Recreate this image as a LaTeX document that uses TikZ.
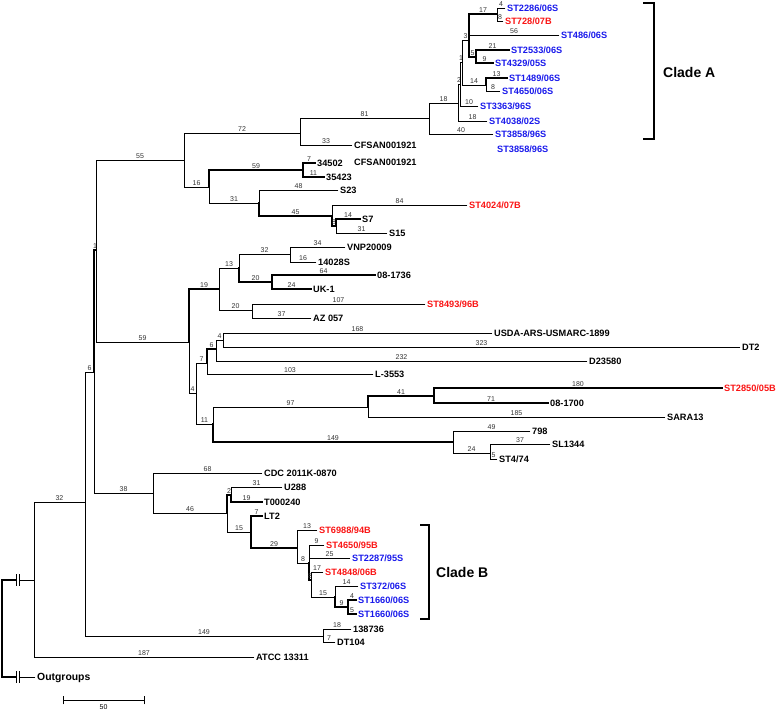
\documentclass[tikz,border=0pt]{standalone}
\usepackage{fontspec}
\setmainfont{Liberation Sans}
\definecolor{tred}{RGB}{250,20,20}
\definecolor{tblue}{RGB}{25,25,235}
\tikzset{
 br/.style={line width=0.9pt, line cap=rect},
 tb/.style={line width=1.8pt, line cap=rect},
 lab/.style={pos=0.75, above, inner sep=0.6pt, font=\fontsize{7}{7}\selectfont, text=black!80},
 leaf/.style={anchor=west, inner sep=0pt, xshift=2pt, font=\bfseries\fontsize{9.2}{10}\selectfont, text height=6.6pt, text depth=0pt},
 rl/.style={leaf, text=tred},
 bl/.style={leaf, text=tblue},
 cladelab/.style={anchor=west, inner sep=0pt, font=\bfseries\fontsize{14}{15}\selectfont},
}
\newcommand\tedge[4][br]{\draw[#1] (#2) |- (#3) node[lab] {#4};}
\newcommand\tleaf[4][leaf]{\coordinate (#2) at (#3); \node[#1] (#2t) at (#2) {#4};}
\begin{document}
\begin{tikzpicture}[x=1pt,y=-1pt]
\useasboundingbox (0,0) rectangle (778,712);
% ---- internal nodes
\coordinate (root) at (2,628);
\coordinate (brkA) at (16,580); \coordinate (brkB) at (19,580);
\coordinate (brkC) at (16,677); \coordinate (brkD) at (19,677);
\coordinate (NR) at (34,580);
\coordinate (N32) at (85,502);
\coordinate (N6) at (94,372);
\coordinate (N1) at (96,250);
\coordinate (N55) at (184,160);
\coordinate (N72) at (300,133);
\coordinate (A) at (429,118);
\coordinate (N18a) at (458,103);
\coordinate (N2a) at (460,84);
\coordinate (N1a) at (462,62);
\coordinate (NB) at (469,40);
\coordinate (N17) at (497,14);
\coordinate (N5a) at (476,57);
\coordinate (N14a) at (486,85);
\coordinate (N16) at (209,187);
\coordinate (N59b) at (303,170);
\coordinate (N31) at (259,203);
\coordinate (N45) at (332,216);
\coordinate (N8) at (336,226);
\coordinate (N59) at (189,342);
\coordinate (N19) at (219,289);
\coordinate (N13) at (239,268);
\coordinate (N32b) at (290,254);
\coordinate (N20) at (272,282);
\coordinate (N20b) at (252,310);
\coordinate (N4) at (196,393);
\coordinate (N7) at (207,363);
\coordinate (N6b) at (216,349);
\coordinate (N4b) at (223,340);
\coordinate (N11) at (213,424);
\coordinate (N97) at (368,407);
\coordinate (N41) at (434,396);
\coordinate (N149) at (453,442);
\coordinate (N24) at (490,453);
\coordinate (N38) at (153,493);
\coordinate (N46) at (227,513);
\coordinate (N2c) at (231,495);
\coordinate (N15) at (251,532);
\coordinate (N29) at (297,548);
\coordinate (N8c) at (309,563);
\coordinate (N8d) at (311,580);
\coordinate (N15b) at (335,597);
\coordinate (N9) at (348,607);
\coordinate (N149b) at (323,636);
% ---- leaves
\tleaf{ATCC}{254,657}{ATCC 13311}
\tleaf[leaf,font=\bfseries\fontsize{10.4}{11}\selectfont,text height=7.5pt]{og}{35,677}{Outgroups}
\tleaf[bl]{t3858}{493,134}{ST3858/96S}
\tleaf{CFa}{352,145}{CFSAN001921}
\tleaf[bl]{t4038}{487,121}{ST4038/02S}
\tleaf[bl]{t3363}{478,106}{ST3363/96S}
\tleaf[bl]{t486}{559,35}{ST486/06S}
\tleaf[bl]{t2286}{505,8}{ST2286/06S}
\tleaf[rl]{t728}{503,21}{ST728/07B}
\tleaf[bl]{t2533}{509,50}{ST2533/06S}
\tleaf[bl]{t4329}{493,63}{ST4329/05S}
\tleaf[bl]{t1489}{507,78}{ST1489/06S}
\tleaf[bl]{t4650s}{500,91}{ST4650/06S}
\tleaf{t34502}{315,163}{34502}
\tleaf{t35423}{324,177}{35423}
\tleaf{tS23}{338,190}{S23}
\tleaf[rl]{t4024}{467,205}{ST4024/07B}
\tleaf{tS7}{360,219}{S7}
\tleaf{tS15}{387,233}{S15}
\tleaf{tVNP}{345,247}{VNP20009}
\tleaf{t14028}{316,262}{14028S}
\tleaf{t081736}{375,275}{08-1736}
\tleaf{tUK}{311,289}{UK-1}
\tleaf[rl]{t8493}{425,304}{ST8493/96B}
\tleaf{tAZ}{311,318}{AZ 057}
\tleaf{tUSDA}{492,333}{USDA-ARS-USMARC-1899}
\tleaf{tDT2}{740,347}{DT2}
\tleaf{tD23580}{587,361}{D23580}
\tleaf{tL3553}{373,374}{L-3553}
\tleaf[rl]{t2850}{722,388}{ST2850/05B}
\tleaf{t081700}{548,403}{08-1700}
\tleaf{tSARA}{665,417}{SARA13}
\tleaf{t798}{530,431}{798}
\tleaf{tSL}{550,444}{SL1344}
\tleaf{tST474}{497,459}{ST4/74}
\tleaf{tCDC}{262,473}{CDC 2011K-0870}
\tleaf{tU288}{282,487}{U288}
\tleaf{tT000}{262,502}{T000240}
\tleaf{tLT2}{262,516}{LT2}
\tleaf[rl]{t6988}{317,530}{ST6988/94B}
\tleaf[rl]{t4650b}{324,545}{ST4650/95B}
\tleaf[bl]{t2287}{350,558}{ST2287/95S}
\tleaf[rl]{t4848}{323,572}{ST4848/06B}
\tleaf[bl]{t372}{358,586}{ST372/06S}
\tleaf[bl]{t1660a}{356,600}{ST1660/06S}
\tleaf[bl]{t1660b}{356,614}{ST1660/06S}
\tleaf{t138}{351,629}{138736}
\tleaf{tDT104}{335,642}{DT104}
% extra floating labels
\node[leaf] (cf2) at (352,162) {CFSAN001921};
\node[bl] (st2) at (495,149) {ST3858/96S};
% ---- root and break marks
\draw[tb] (root) |- (brkA);
\draw[br] (brkB) -- (NR);
\draw[tb] (root) |- (brkC);
\draw[br] (brkD) -- (og);
\foreach \yy in {580,677}{
  \draw[line width=1pt] (16,\yy-6) -- (16,\yy+6);
  \draw[line width=1pt] (19,\yy-6) -- (19,\yy+6);
}
% ---- edges
\tedge{NR}{N32}{32}
\tedge{NR}{ATCC}{187}
\tedge{N32}{N6}{6}
\tedge{N32}{N149b}{149}
\tedge[tb]{N6}{N1}{1}
\tedge{N6}{N38}{38}
\tedge{N1}{N55}{55}
\tedge{N1}{N59}{59}
\tedge{N55}{N72}{72}
\tedge{N55}{N16}{16}
\tedge{N72}{A}{81}
\tedge{N72}{CFa}{33}
\tedge{A}{N18a}{18}
\tedge{A}{t3858}{40}
\tedge{N18a}{N2a}{2}
\tedge{N18a}{t4038}{18}
\tedge{N2a}{N1a}{1}
\tedge{N2a}{t3363}{10}
\tedge{N1a}{NB}{3}
\tedge{N1a}{N14a}{14}
\tedge[tb]{NB}{N17}{17}
\tedge{NB}{t486}{56}
\tedge[tb]{NB}{N5a}{5}
\tedge{N17}{t2286}{4}
\tedge{N17}{t728}{8}
\tedge[tb]{N5a}{t2533}{21}
\tedge[tb]{N5a}{t4329}{9}
\tedge[tb]{N14a}{t1489}{13}
\tedge{N14a}{t4650s}{8}
\tedge[tb]{N16}{N59b}{59}
\tedge{N16}{N31}{31}
\tedge[tb]{N59b}{t34502}{7}
\tedge[tb]{N59b}{t35423}{11}
\tedge{N31}{tS23}{48}
\tedge[tb]{N31}{N45}{45}
\tedge{N45}{t4024}{84}
\tedge[tb]{N45}{N8}{8}
\tedge[tb]{N8}{tS7}{14}
\tedge{N8}{tS15}{31}
\tedge[tb]{N59}{N19}{19}
\tedge{N59}{N4}{4}
\tedge{N19}{N13}{13}
\tedge{N19}{N20b}{20}
\tedge{N13}{N32b}{32}
\tedge[tb]{N13}{N20}{20}
\tedge{N32b}{tVNP}{34}
\tedge{N32b}{t14028}{16}
\tedge[tb]{N20}{t081736}{64}
\tedge[tb]{N20}{tUK}{24}
\tedge{N20b}{t8493}{107}
\tedge{N20b}{tAZ}{37}
\tedge{N4}{N7}{7}
\tedge{N4}{N11}{11}
\tedge[tb]{N7}{N6b}{6}
\tedge{N7}{tL3553}{103}
\tedge{N6b}{N4b}{4}
\tedge{N6b}{tD23580}{232}
\tedge{N4b}{tUSDA}{168}
\tedge{N4b}{tDT2}{323}
\tedge{N11}{N97}{97}
\tedge[tb]{N11}{N149}{149}
\tedge[tb]{N97}{N41}{41}
\tedge{N97}{tSARA}{185}
\tedge[tb]{N41}{t2850}{180}
\tedge[tb]{N41}{t081700}{71}
\tedge{N149}{t798}{49}
\tedge{N149}{N24}{24}
\tedge{N24}{tSL}{37}
\tedge{N24}{tST474}{5}
\tedge{N38}{tCDC}{68}
\tedge{N38}{N46}{46}
\tedge[tb]{N46}{N2c}{2}
\tedge{N46}{N15}{15}
\tedge{N2c}{tU288}{31}
\tedge[tb]{N2c}{tT000}{19}
\tedge[tb]{N15}{tLT2}{7}
\tedge[tb]{N15}{N29}{29}
\tedge{N29}{t6988}{13}
\tedge{N29}{N8c}{8}
\tedge{N8c}{t4650b}{9}
\tedge{N8c}{t2287}{25}
\tedge[tb]{N8c}{N8d}{8}
\tedge{N8d}{t4848}{17}
\tedge{N8d}{N15b}{15}
\tedge{N15b}{t372}{14}
\tedge[tb]{N15b}{N9}{9}
\tedge[tb]{N9}{t1660a}{4}
\tedge[tb]{N9}{t1660b}{5}
\tedge{N149b}{t138}{18}
\tedge{N149b}{tDT104}{7}
% ---- clade brackets
\coordinate (caT) at (643,3); \coordinate (caB) at (643,139);
\draw[line width=1.6pt] (caT) -- (654,3) -- (654,139) -- (caB);
\node[cladelab] (cladeA) at (663,72) {Clade A};
\coordinate (cbT) at (420,525); \coordinate (cbB) at (420,619);
\draw[line width=1.6pt] (cbT) -- (429,525) -- (429,619) -- (cbB);
\node[cladelab] (cladeB) at (436,572) {Clade B};
% ---- scale bar
\coordinate (sbL) at (63,700); \coordinate (sbR) at (144,700);
\draw[br] (sbL) -- (sbR);
\draw[br] (63,696) -- (63,704);
\draw[br] (144,696) -- (144,704);
\node[anchor=north, inner sep=0pt, font=\fontsize{7}{7}\selectfont] (sbl) at (103.5,704) {50};
\end{tikzpicture}
\end{document}
